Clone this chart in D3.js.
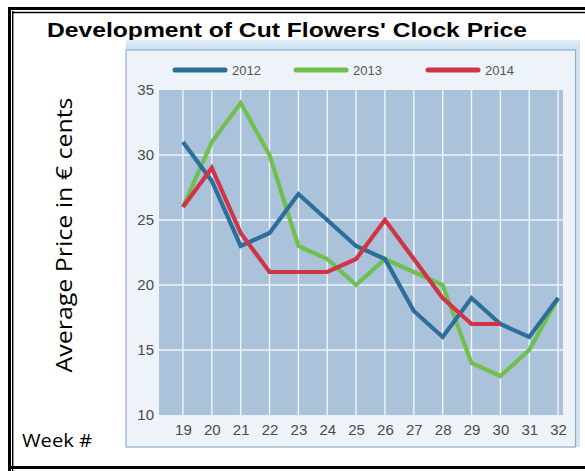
<!DOCTYPE html>
<html>
<head>
<meta charset="utf-8">
<script src="https://cdn.jsdelivr.net/npm/d3@7"></script>
<style>
  body { margin: 0; background: #fff; }
  svg { display: block; }
</style>
</head>
<body>
<svg id="svg" width="585" height="471"></svg>
<script>
// weeks and average clock price (euro cents)
var weeks = [19, 20, 21, 22, 23, 24, 25, 26, 27, 28, 29, 30, 31, 32];
var price2012 = [31, 28, 23, 24, 27, 25, 23, 22, 18, 16, 19, 17, 16, 19];
var price2013 = [26, 31, 34, 30, 23, 22, 20, 22, 21, 20, 14, 13, 15, 19];
var price2014 = [26, 29, 24, 21, 21, 21, 22, 25, 22, 19, 17, 17];
var seriesNames = ["2012", "2013", "2014"];
var yTicks = [10, 15, 20, 25, 30, 35];

var svg = d3.select("#svg");

var colors = { "2012": "#2d6f9b", "2013": "#71bf4c", "2014": "#d13447" };

// outer frame (double rule)
svg.append("line").attr("x1", 9.5).attr("x2", 9.5).attr("y1", 7).attr("y2", 471)
    .attr("stroke", "#000").attr("stroke-width", 3);
svg.append("line").attr("x1", 12.7).attr("x2", 12.7).attr("y1", 11).attr("y2", 471)
    .attr("stroke", "#000").attr("stroke-width", 1.4);
svg.append("line").attr("x1", 8).attr("x2", 585).attr("y1", 8.5).attr("y2", 8.5)
    .attr("stroke", "#000").attr("stroke-width", 3);
svg.append("line").attr("x1", 12).attr("x2", 585).attr("y1", 12.5).attr("y2", 12.5)
    .attr("stroke", "#000").attr("stroke-width", 1.4);
svg.append("line").attr("x1", 8).attr("x2", 585).attr("y1", 467.5).attr("y2", 467.5)
    .attr("stroke", "#000").attr("stroke-width", 3);

svg.append("text")
    .attr("x", 287).attr("y", 37)
    .attr("text-anchor", "middle")
    .attr("textLength", 480)
    .attr("lengthAdjust", "spacingAndGlyphs")
    .style("font-family", "'Liberation Sans', Arial, sans-serif")
    .style("font-weight", "bold")
    .style("font-size", "21px")
    .text("Development of Cut Flowers' Clock Price");

// embedded chart panel
var grad = svg.append("defs").append("linearGradient").attr("id", "band")
    .attr("x1", 0).attr("y1", 0).attr("x2", 0).attr("y2", 1);
grad.append("stop").attr("offset", "0%").attr("stop-color", "#e2eef8");
grad.append("stop").attr("offset", "100%").attr("stop-color", "#c9def0");

svg.append("rect").attr("x", 126).attr("y", 40).attr("width", 454).attr("height", 407)
    .attr("fill", "#d3e5f4");
svg.append("rect").attr("x", 126).attr("y", 40).attr("width", 454).attr("height", 10)
    .attr("fill", "url(#band)");
svg.append("rect").attr("x", 126).attr("y", 50).attr("width", 449.5).attr("height", 397)
    .attr("fill", "#edf3f9").attr("stroke", "#8eaec8").attr("stroke-width", 1.2);

var x = d3.scaleLinear().domain([18.17, 32.17]).range([159, 563]);
var y = d3.scaleLinear().domain([10, 35]).range([415, 90]);

svg.append("rect")
    .attr("x", x.range()[0]).attr("y", y(35))
    .attr("width", x.range()[1] - x.range()[0]).attr("height", y(10) - y(35))
    .attr("fill", "#abc2db");

// grid
svg.append("g").selectAll("line").data(weeks).enter().append("line")
    .attr("x1", function (d) { return x(d); }).attr("x2", function (d) { return x(d); })
    .attr("y1", y(35)).attr("y2", y(10))
    .attr("stroke", "#eef4fa").attr("stroke-width", 1.4);
svg.append("g").selectAll("line").data(yTicks.slice(1, 5)).enter().append("line")
    .attr("x1", x.range()[0]).attr("x2", x.range()[1])
    .attr("y1", function (d) { return y(d); }).attr("y2", function (d) { return y(d); })
    .attr("stroke", "#eef4fa").attr("stroke-width", 1.4);

// axes (labels only)
var yAxis = svg.append("g").attr("transform", "translate(" + x.range()[0] + ",0)")
    .call(d3.axisLeft(y).tickValues(yTicks).tickSize(0).tickPadding(5));
var xAxis = svg.append("g").attr("transform", "translate(0," + y(10) + ")")
    .call(d3.axisBottom(x).tickValues(weeks).tickSize(0).tickPadding(9));
[xAxis, yAxis].forEach(function (a) {
    a.select(".domain").remove();
    a.selectAll("text")
        .style("font-family", "'Liberation Sans', Arial, sans-serif")
        .style("font-size", "15px")
        .attr("fill", "#4a4a4a");
});

// series lines
var line = d3.line()
    .x(function (d, i) { return x(weeks[i]); })
    .y(function (d) { return y(d); });

var data = [price2012, price2013, price2014];
// draw 2013 first, then 2012, 2014 on top
[1, 0, 2].forEach(function (k) {
    svg.append("path")
        .datum(data[k])
        .attr("d", line)
        .attr("fill", "none")
        .attr("stroke", colors[seriesNames[k]])
        .attr("stroke-width", 4.2)
        .attr("stroke-linejoin", "miter")
        .attr("stroke-linecap", "butt");
});

// legend
var legendX = [175, 296, 428];
var legend = svg.append("g").selectAll("g").data(seriesNames).enter().append("g")
    .attr("transform", function (d, i) { return "translate(" + legendX[i] + ",70)"; });
legend.append("line")
    .attr("x1", 0).attr("x2", 50).attr("y1", 0).attr("y2", 0)
    .attr("stroke", function (d) { return colors[d]; })
    .attr("stroke-width", 5).attr("stroke-linecap", "round");
legend.append("text")
    .attr("x", 57).attr("y", 5)
    .style("font-family", "'Liberation Sans', Arial, sans-serif")
    .style("font-size", "13px")
    .attr("fill", "#555")
    .text(function (d) { return d; });

// axis titles
svg.append("text")
    .attr("transform", "translate(72,235) rotate(-90)")
    .attr("text-anchor", "middle")
    .attr("textLength", 275)
    .attr("lengthAdjust", "spacingAndGlyphs")
    .style("font-family", "'Open Sans', sans-serif")
    .style("font-size", "21px")
    .text("Average Price in € cents");

svg.append("text")
    .attr("x", 22).attr("y", 447)
    .attr("textLength", 70)
    .attr("lengthAdjust", "spacingAndGlyphs")
    .style("font-family", "'Open Sans', sans-serif")
    .style("font-size", "19px")
    .text("Week #");
</script>
</body>
</html>
